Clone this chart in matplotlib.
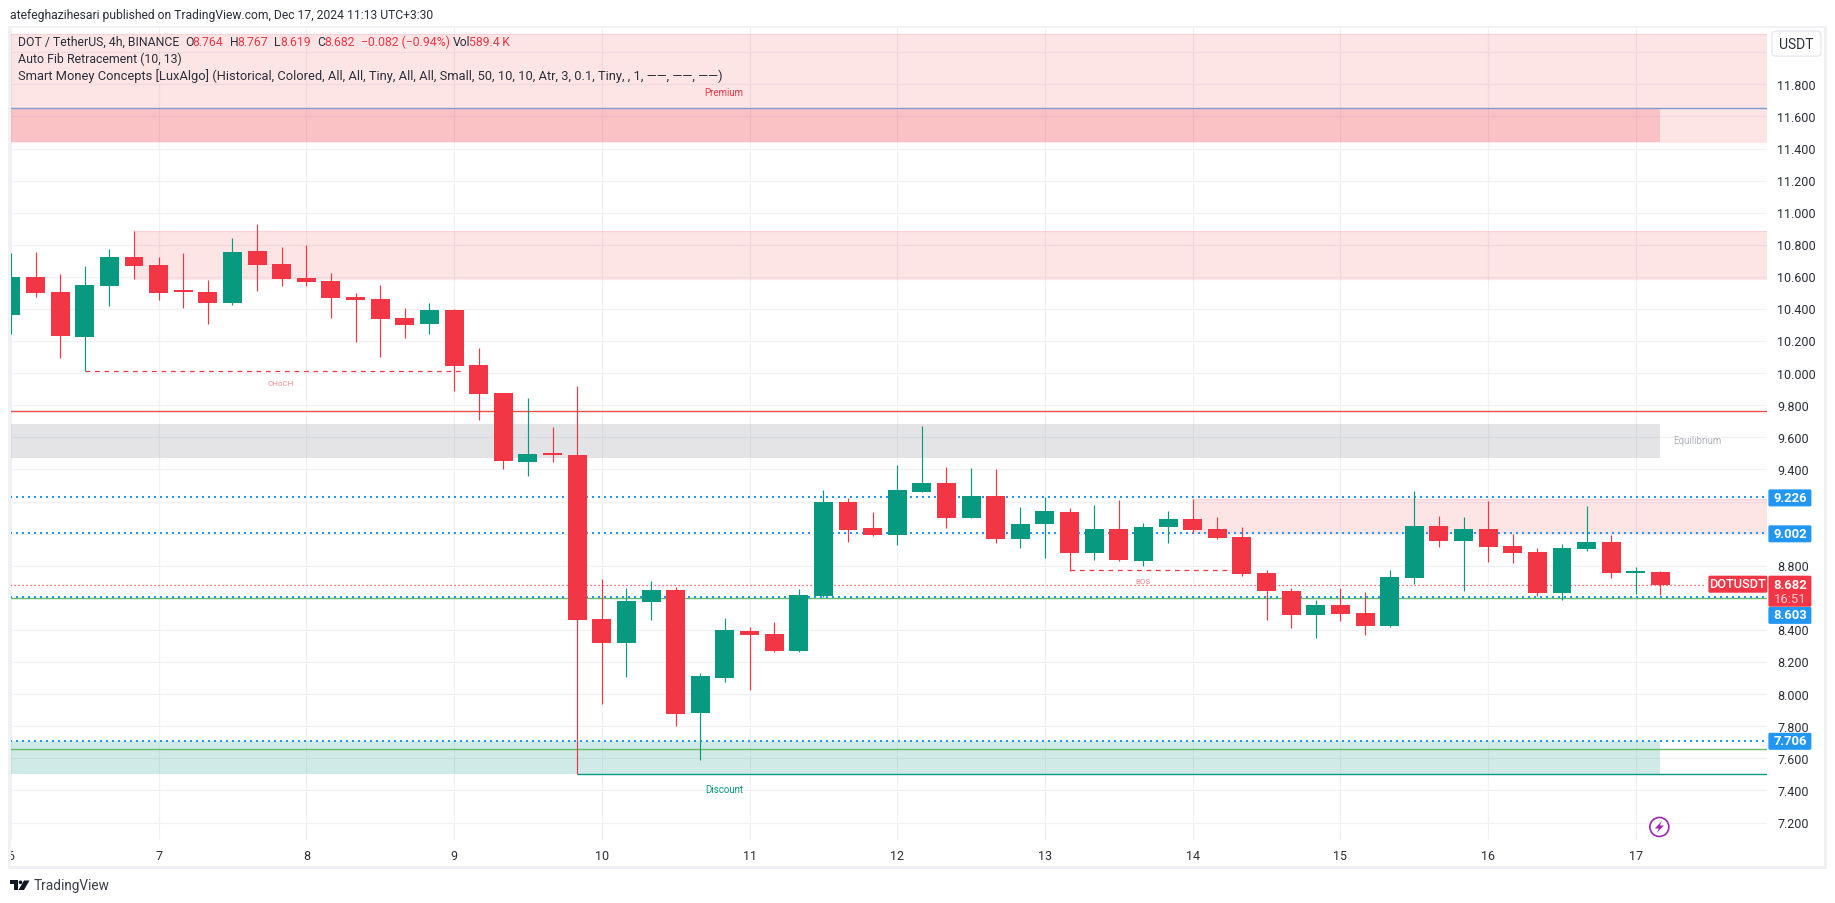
import matplotlib
matplotlib.use('Agg')
import matplotlib.pyplot as plt
from matplotlib.patches import Rectangle, FancyBboxPatch, Polygon, Circle
from matplotlib.transforms import Bbox

W, H = 1835, 903
GREEN = '#089981'; RED = '#F23645'; BLUE = '#2196F3'; TEXT = '#2a2e39'
plt.rcParams['font.family'] = ['Roboto', 'DejaVu Sans']

# ---- data ----
opens = [10.364,10.601,10.508,10.227,10.545,10.726,10.676,10.508,10.508,10.439,10.763,10.682,10.595,10.576,10.477,10.464,10.346,10.308,
         10.395,10.053,9.878,9.448,9.504,9.491,8.469,8.319,8.575,8.650,7.883,8.101,8.394,8.376,8.270,8.612,9.198,9.036,8.993,9.261,9.317,
         9.099,9.236,8.968,9.061,9.136,8.881,9.030,8.831,9.043,9.092,9.030,8.980,8.756,8.644,8.494,8.556,8.506,8.425,8.725,9.049,8.955,
         9.030,8.924,8.887,8.631,8.905,8.949,8.756,8.764]
closes = [10.601,10.501,10.233,10.551,10.726,10.670,10.501,10.504,10.439,10.757,10.676,10.589,10.570,10.470,10.458,10.339,10.302,10.395,
          10.046,9.872,9.454,9.498,9.492,8.463,8.319,8.581,8.650,7.877,8.114,8.400,8.369,8.270,8.619,9.198,9.024,8.993,9.273,9.317,9.099,
          9.236,8.968,9.061,9.142,8.881,9.030,8.837,9.043,9.092,9.024,8.974,8.750,8.644,8.494,8.556,8.500,8.425,8.731,9.049,8.955,9.030,
          8.918,8.880,8.631,8.912,8.949,8.756,8.768,8.682]
highs = [10.751,10.757,10.620,10.670,10.776,10.888,10.726,10.751,10.582,10.844,10.932,10.788,10.801,10.626,10.501,10.551,10.408,10.439,
         10.402,10.159,9.878,9.847,9.666,9.922,8.718,8.662,8.706,8.669,8.132,8.475,8.419,8.450,8.656,9.273,9.223,9.136,9.429,9.672,9.417,
         9.410,9.404,9.167,9.230,9.161,9.180,9.211,9.068,9.142,9.217,9.105,9.043,8.774,8.662,8.587,8.662,8.637,8.774,9.267,9.111,9.105,
         9.205,8.999,8.912,8.937,9.174,8.993,8.793,8.767]
lows = [10.246,10.477,10.096,10.011,10.420,10.589,10.458,10.408,10.308,10.427,10.514,10.545,10.545,10.346,10.196,10.102,10.221,10.246,
        9.890,9.710,9.404,9.361,9.448,7.501,7.939,8.107,8.463,7.802,7.590,8.076,8.027,8.263,8.263,8.606,8.949,8.986,8.930,9.261,9.036,
        9.099,8.943,8.912,8.849,8.770,8.837,8.831,8.799,8.943,9.005,8.968,8.737,8.463,8.413,8.351,8.457,8.369,8.419,8.687,8.918,8.644,
        8.824,8.818,8.612,8.587,8.893,8.725,8.625,8.619]
day_labels = ['6','7','8','9','10','11','12','13','14','15','16','17']
day_bars = [0,6,12,18,24,30,36,42,48,54,60,66]
price_ticks = [7.2,7.4,7.6,7.8,8.0,8.2,8.4,8.6,8.8,9.0,9.2,9.4,9.6,9.8,10.0,10.2,10.4,10.6,10.8,11.0,11.2,11.4,11.6,11.8,12.0]
price_hidden = [8.6,9.0,9.2,12.0]
dotted_levels = [9.226,9.002,8.603,7.706]
last_close = 8.682
premium_zone = (11.438,12.116); premium_block = (11.438,11.65)
equilibrium_zone = (9.473,9.685); discount_zone = (7.503,7.706)
supply_a = (10.589,10.888,5); supply_b = (9.002,9.217,48)
red_level = 9.762; green_levels = [8.597,7.657]; teal_level = 7.501; blue_level = 11.65
choch = (10.011,3,18.4); bos = (8.771,43,49.6)

# ---- layout ----
L, R, T, B = 10, 1767, 27, 840
X0, DX = 10.9, 24.615
PY_REF, PY_SCALE = 84.7, 160.4
def bar_at(px): return (px - X0) / DX
def price_at(py): return 11.8 - (py - PY_REF) / PY_SCALE
def py(p): return PY_REF + (11.8 - p) * PY_SCALE

fig = plt.figure(figsize=((W+0.4)/100, (H+0.4)/100), dpi=100, facecolor='white')
ax = fig.add_axes([L/W, 1-B/H, (R-L)/W, (B-T)/H], zorder=1)
ax.set_xlim(bar_at(L), bar_at(R)); ax.set_ylim(price_at(B), price_at(T))
for s in ax.spines.values(): s.set_visible(False)
ax.set_axisbelow(True)
GC = '#f0f1f4'
ax.set_yticks(price_ticks)
ax.set_yticklabels(['' if p in price_hidden else f'{p:.3f}' for p in price_ticks], fontsize=9, color=TEXT)
ax.yaxis.tick_right()
ax.set_xticks(day_bars); ax.set_xticklabels(day_labels, fontsize=9, color=TEXT)
ax.tick_params(axis='both', length=0)
ax.tick_params(axis='y', pad=7); ax.tick_params(axis='x', pad=7)
ax.grid(True, color=GC, lw=0.9, zorder=0)
for lab in ax.get_xticklabels()[:1]:
    lab.set_clip_on(True)
    lab.set_clip_box(Bbox([[L, 0], [60, H]]))

xl = ax.get_xlim()
right_bar = bar_at(R); block_end = bar_at(1660)
def zone(lo, hi, x0, x1, color, alpha, edge=False):
    ax.add_patch(Rectangle((x0, lo), x1-x0, hi-lo, fc=color, alpha=alpha, ec='none', zorder=1))
    if edge:
        ax.hlines([lo, hi], x0, x1, color=color, alpha=0.1, lw=0.9, zorder=1)
zone(*premium_zone, xl[0], right_bar, RED, 0.13, True)
zone(*premium_block, xl[0], block_end, RED, 0.2)
zone(supply_a[0], supply_a[1], supply_a[2], right_bar, RED, 0.13, True)
zone(supply_b[0], supply_b[1], supply_b[2], right_bar, RED, 0.13, True)
zone(*equilibrium_zone, xl[0], block_end, '#787B86', 0.2)
zone(*discount_zone, xl[0], block_end, GREEN, 0.19)

ax.hlines(blue_level, xl[0], right_bar, color='#7c9bd0', lw=1.0, zorder=2)
ax.hlines(red_level, xl[0], right_bar, color='#e8504a', lw=1.0, zorder=2)
ax.hlines(green_levels, xl[0], right_bar, color='#66bb6a', lw=1.0, zorder=2)
ax.hlines(teal_level, 23, right_bar, color=GREEN, lw=1.0, zorder=2)
ax.hlines(dotted_levels, xl[0], right_bar, color=BLUE, lw=1.44, linestyles=[(0,(1,2))], zorder=2)
ax.hlines(last_close, xl[0], bar_at(1705), color=RED, lw=0.9, linestyles=[(0,(1,2.2))], zorder=2)
ax.hlines(choch[0], choch[1], choch[2], color=RED, lw=0.9, linestyles=[(0,(3.8,3.8))], zorder=2)
ax.hlines(bos[0], bos[1], bos[2], color=RED, lw=0.9, linestyles=[(0,(3.8,3.8))], zorder=2)

idx = list(range(len(opens)))
cols = [GREEN if c >= o else RED for o, c in zip(opens, closes)]
ax.vlines(idx, lows, highs, colors=cols, lw=0.85, zorder=3)
ax.bar(idx, [max(abs(c-o), 0.012) for o, c in zip(opens, closes)], bottom=[min(o, c) for o, c in zip(opens, closes)],
       width=0.77, color=cols, lw=0, zorder=4)

ax.text(bar_at(724), 11.75, 'Premium', color=RED, fontsize=7, ha='center', va='center', zorder=5)
ax.text(bar_at(724), 7.403, 'Discount', color=GREEN, fontsize=7, ha='center', va='center', zorder=5)
ax.text(bar_at(1697), 9.578, 'Equilibrium', color='#b2b5be', fontsize=7, ha='center', va='center', zorder=5)
ax.text(bar_at(281), 9.938, 'CHoCH', color=RED, alpha=0.6, fontsize=5.8, ha='center', va='center', zorder=5)
ax.text(bar_at(1143), 8.70, 'BOS', color=RED, alpha=0.6, fontsize=5.8, ha='center', va='center', zorder=5)

# ---- overlay in pixel coordinates ----
ov = fig.add_axes([0, 0, 1, 1], zorder=2)
ov.set_xlim(0, W); ov.set_ylim(H, 0); ov.axis('off'); ov.patch.set_alpha(0)
FC = '#f0f0f5'
for r in [(8, 26, 1819, 2.5), (8, 866.5, 1819, 2.5), (8, 26, 2.5, 843), (1824, 26, 2.5, 843)]:
    ov.add_patch(Rectangle((r[0], r[1]), r[2], r[3], fc=FC, ec='none'))

ov.text(10, 15, 'atefeghazihesari published on TradingView.com, Dec 17, 2024 11:13 UTC+3:30',
        fontsize=8.7, color=TEXT, va='center')
segs = [(18, 'DOT / TetherUS, 4h, BINANCE', TEXT), (185, 'O', TEXT), (192, '8.764', RED), (229.5, 'H', TEXT), (237, '8.767', RED),
        (274, 'L', TEXT), (280.5, '8.619', RED), (317, 'C', TEXT), (324, '8.682', RED), (361, '\u22120.082 (\u22120.94%)', RED),
        (453, 'Vol', TEXT), (469, '589.4\u2009K', RED)]
for x, s, c in segs:
    ov.text(x, 42, s, fontsize=8.8, color=c, va='center')
ov.text(18, 59, 'Auto Fib Retracement (10, 13)', fontsize=8.9, color=TEXT, va='center')
ov.text(18, 76, 'Smart Money Concepts [LuxAlgo] (Historical, Colored, All, All, Tiny, All, All, Small, 50, 10, 10, Atr, 3, 0.1, Tiny, , 1, \u2014\u2014, \u2014\u2014, \u2014\u2014)',
        fontsize=9.25, color=TEXT, va='center')

ov.add_patch(FancyBboxPatch((1771.5, 31.5), 49, 25, boxstyle='round,pad=0,rounding_size=4', fc='white', ec='#e8e9ef', lw=1))
ov.text(1796, 44.5, 'USDT', fontsize=10, color=TEXT, ha='center', va='center')

def box(x, y, w, h, color):
    ov.add_patch(FancyBboxPatch((x, y), w, h, boxstyle='round,pad=0,rounding_size=1.5', fc=color, ec='none'))
def tag(yc, txt):
    box(1768, yc-8.5, 43, 17, BLUE)
    ov.text(1789.5, yc, txt, fontsize=9.4, color='white', ha='center', va='center', fontweight='bold')
tag_offsets = [0.5, 0.5, 18, 0]
for lvl, off in zip(dotted_levels, tag_offsets):
    tag(py(lvl) + off, f'{lvl:.3f}')
yc = py(last_close)
box(1768, yc-9, 43, 31, RED)
ov.text(1789.5, yc, f'{last_close:.3f}', fontsize=9.4, color='white', ha='center', va='center', fontweight='bold')
ov.text(1789.5, yc+14, '16:51', fontsize=9.4, color='#f9c9ce', ha='center', va='center')
box(1708, yc-9, 59, 17, RED)
ov.text(1737.5, yc-0.5, 'DOTUSDT', fontsize=9.2, color='white', ha='center', va='center', fontweight='medium')

# lightning icon
ov.add_patch(Circle((1659, 827), 9.5, fc='white', ec='#9c27b0', lw=1.2))
ov.add_patch(Polygon([(1661.5,821),(1654.5,828.5),(1658.5,828.5),(1656.5,833),(1663.5,825.5),(1659.5,825.5)], fc='#9c27b0', ec='none'))

# TradingView logo
LC = '#131722'
ov.add_patch(Polygon([(10,880.5),(17.5,880.5),(17.5,890),(13.5,890),(13.5,884),(10,884)], fc=LC, ec='none'))
ov.add_patch(Circle((20.5,882.3), 1.8, fc=LC, ec='none'))
ov.add_patch(Polygon([(24,880.5),(29.5,880.5),(24,890),(18.5,890)], fc=LC, ec='none'))
ov.text(33.5, 885.5, 'TradingView', fontsize=9.8, color='#3a3e49', va='center')

fig.savefig('out.png', dpi=100)
